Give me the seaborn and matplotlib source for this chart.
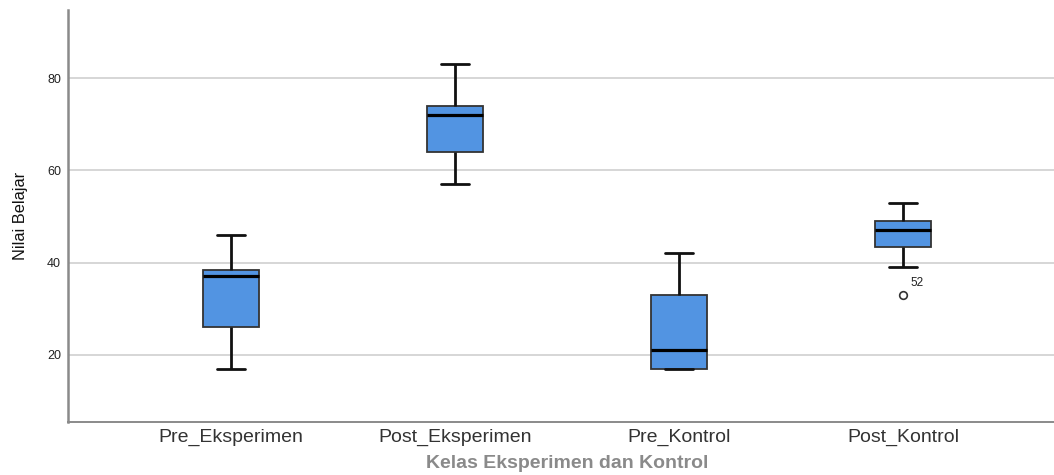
import matplotlib
matplotlib.use("Agg")
import matplotlib.pyplot as plt
import seaborn as sns
import pandas as pd

# values (whisker low, Q1, median, Q3, whisker high)
kelas = ["Pre_Eksperimen", "Post_Eksperimen", "Pre_Kontrol", "Post_Kontrol"]
pre_eksperimen = [17, 26, 37, 38.5, 46]
post_eksperimen = [57, 64, 72, 74, 83]
pre_kontrol = [17, 17, 21, 33, 42]
# Post_Kontrol: summary repeated so the quartiles land on Q1/median/Q3, plus outlier 33 (case 52)
post_kontrol = [33, 39, 43.5, 43.5, 47, 49, 49, 53, 53]
outlier_label = "52"
outlier_value = 33

df = pd.concat([
    pd.DataFrame({"kelas": k, "nilai": v})
    for k, v in zip(kelas, [pre_eksperimen, post_eksperimen, pre_kontrol, post_kontrol])
])

sns.set_style("white")
plt.rcParams["font.family"] = ["Liberation Sans", "DejaVu Sans"]

fig = plt.figure(figsize=(10.54, 4.75), dpi=100)
ax = fig.add_axes([68 / 1054, (475 - 421.7) / 475, 1 - 68 / 1054, (421.7 - 10) / 475])

sns.boxplot(data=df, x="kelas", y="nilai", order=kelas, ax=ax, width=0.25,
            color="#5294e2", saturation=1, linewidth=1.3, linecolor="#222222",
            whiskerprops=dict(color="#111111", linewidth=2),
            capprops=dict(color="#111111", linewidth=2),
            medianprops=dict(color="#000000", linewidth=2.3),
            boxprops=dict(edgecolor="#333333", linewidth=1.3),
            flierprops=dict(marker="o", markersize=5.5, markerfacecolor="white",
                            markeredgecolor="#333333", markeredgewidth=1.2))

ax.text(3 + 0.035, outlier_value + 1.2, outlier_label, fontsize=8.5, color="#222222",
        ha="left", va="bottom")

ax.set_xlim(-0.728, 3.674)
ax.set_ylim(5.5, 94.8)
ax.set_yticks([20, 40, 60, 80])
ax.grid(axis="y", color="#d0d0d0", linewidth=1.2)
ax.set_axisbelow(True)

for s in ["top", "right"]:
    ax.spines[s].set_visible(False)
ax.spines["left"].set_color("#8a8a8a")
ax.spines["left"].set_linewidth(1.8)
ax.spines["bottom"].set_color("#8a8a8a")
ax.spines["bottom"].set_linewidth(1.4)

ax.tick_params(axis="y", labelsize=9, labelcolor="#222222", length=0, pad=5)
ax.tick_params(axis="x", labelsize=14, labelcolor="#333333", length=0, pad=5)

ax.set_xlabel("")
ax.set_ylabel("Nilai Belajar", fontsize=11.8, color="#111111", labelpad=14)
fig.text(567 / 1054, 3 / 475, "Kelas Eksperimen dan Kontrol", ha="center",
         va="bottom", fontsize=14, color="#8a8a8a", fontweight="bold")

fig.savefig("out.png", dpi=100)
